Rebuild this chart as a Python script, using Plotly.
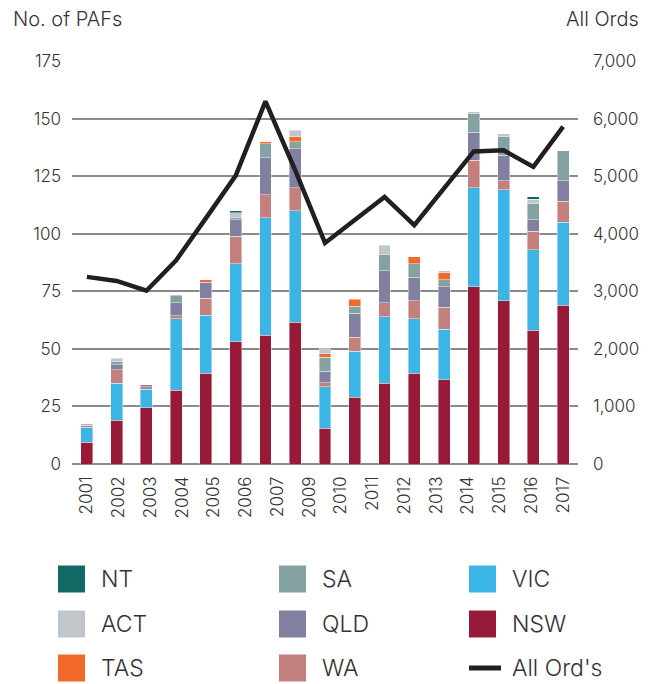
import plotly.graph_objects as go
import numpy as np

years = list(range(2001, 2018))
tick_labels = ["2001", "2002", "2003", "2004", "2005", "2006", "2007", "2009",
               "2010", "2011", "2012", "2013", "2014", "2015", "2016", "2017"]

nsw = [9.5, 19, 24.5, 32, 39.5, 53, 56, 61.5, 15.5, 29, 35, 39.5, 36.5, 77, 71, 58, 69]
vic = [6.5, 16, 8, 31, 25, 34, 51, 48.5, 18, 20, 29, 23.5, 22, 43, 48, 35, 36]
wa = [0.8, 6, 1, 1.3, 7.5, 12, 10, 10, 1.8, 6, 6, 8, 9.5, 12, 4, 8, 9]
qld = [0.5, 2, 1, 5.7, 7, 7, 16, 17, 5, 10.5, 14, 10, 9, 12, 11, 5, 9]
sa = [0, 1.5, 0, 3.2, 0, 1, 6, 3, 6, 3, 7, 6, 3, 8, 8, 7, 13]
tas = [0, 0, 0, 0, 1, 0, 1, 2, 1.5, 3, 0, 3, 3, 0, 0, 0, 0]
act = [0, 1.5, 0, 0, 0, 2, 0, 3, 2.3, 0, 4, 0, 1, 1, 1.5, 2, 0]
nt = [0, 0, 0, 0, 0, 1, 0, 0, 0, 0, 0, 0, 0, 0, 0, 1, 0]
all_ords = [3250, 3180, 3010, 3540, 4270, 5010, 6300, 5100, 3840, 4250,
            4640, 4150, 4800, 5430, 5450, 5160, 5860]

series = [
    ("NSW", nsw, "#971a38"),
    ("VIC", vic, "#3bb4e6"),
    ("WA", wa, "#c4807d"),
    ("QLD", qld, "#8280a1"),
    ("SA", sa, "#84a2a1"),
    ("TAS", tas, "#f26a2a"),
    ("ACT", act, "#c0c7cc"),
    ("NT", nt, "#126864"),
]
line_name = "All Ord's"
line_color = "#231f20"

FONT = "Inter"
WEIGHT = 300
TXT = "#333333"

fig = go.Figure()
for name, vals, col in series:
    fig.add_trace(go.Bar(
        x=years, y=[v if v else None for v in vals], name=name,
        marker=dict(color=col, line=dict(color="rgba(255,255,255,0.7)", width=0.6)),
        width=0.4, showlegend=False, yaxis="y"))

fig.add_trace(go.Scatter(
    x=years, y=all_ords, name=line_name, mode="lines",
    line=dict(color=line_color, width=4.5), yaxis="y2", showlegend=False))

W, H = 652, 684
L, R, T, B = 72, 74, 61, 220
pw, ph = W - L - R, H - T - B

def px(x):
    return (x - L) / pw

def py(y):
    return (H - B - y) / ph

# manual legend (3 columns, column-major order)
legend_cols = [["NT", "ACT", "TAS"], ["SA", "QLD", "WA"], ["VIC", "NSW", line_name]]
col_sq_x = [58, 279, 469]
col_txt_x = [99, 320, 510]
row_y = [579, 624, 668]
colors = {n: c for n, _, c in series}
shapes = []
annotations = []
for ci, col in enumerate(legend_cols):
    for ri, name in enumerate(col):
        cy = row_y[ri]
        x0 = col_sq_x[ci]
        if name == line_name:
            shapes.append(dict(type="line", xref="paper", yref="paper",
                               x0=px(x0), x1=px(x0 + 32), y0=py(cy), y1=py(cy),
                               line=dict(color=line_color, width=5)))
        else:
            shapes.append(dict(type="rect", xref="paper", yref="paper",
                               x0=px(x0), x1=px(x0 + 27), y0=py(cy - 13.5), y1=py(cy + 13.5),
                               fillcolor=colors[name], line=dict(width=0)))
        annotations.append(dict(text=name, xref="paper", yref="paper",
                                x=px(col_txt_x[ci]), y=py(cy), xanchor="left", yanchor="middle",
                                showarrow=False, font=dict(family=FONT, size=23, color=TXT, weight=WEIGHT)))

annotations.append(dict(text="No. of PAFs", xref="paper", yref="paper", x=px(11), y=py(19),
                        xanchor="left", yanchor="middle", showarrow=False,
                        font=dict(family=FONT, size=20, color=TXT, weight=WEIGHT)))
annotations.append(dict(text="All Ords", xref="paper", yref="paper", x=px(641), y=py(19),
                        xanchor="right", yanchor="middle", showarrow=False,
                        font=dict(family=FONT, size=20, color=TXT, weight=WEIGHT)))

tf = dict(family=FONT, size=17, color=TXT, weight=WEIGHT)
fig.update_layout(
    width=W, height=H,
    margin=dict(l=L, r=R, t=T, b=B),
    barmode="stack",
    plot_bgcolor="white", paper_bgcolor="white",
    font=dict(family=FONT, size=17, color=TXT, weight=WEIGHT),
    shapes=shapes, annotations=annotations,
    xaxis=dict(range=[years[0] - 0.5, years[-1] + 0.5],
               tickvals=list(np.linspace(years[0], years[-1], len(tick_labels))),
               ticktext=tick_labels, tickangle=-90, showgrid=False, zeroline=False,
               showline=False, ticks="", ticklabelstandoff=8, tickfont=tf),
    yaxis=dict(range=[0, 175], dtick=25, showgrid=True, gridcolor="#8a8a8a", gridwidth=2,
               zeroline=True, zerolinecolor="#8a8a8a", zerolinewidth=2, showline=False,
               ticks="", ticklabelstandoff=10, tickfont=tf),
    yaxis2=dict(range=[0, 7000], dtick=1000, overlaying="y", side="right", showgrid=False,
                zeroline=False, showline=False, ticks="", tickformat=",",
                ticklabelstandoff=14, tickfont=tf),
)

fig.write_html("out.html", config={"displayModeBar": False},
               post_script="document.body.style.margin='0';")
